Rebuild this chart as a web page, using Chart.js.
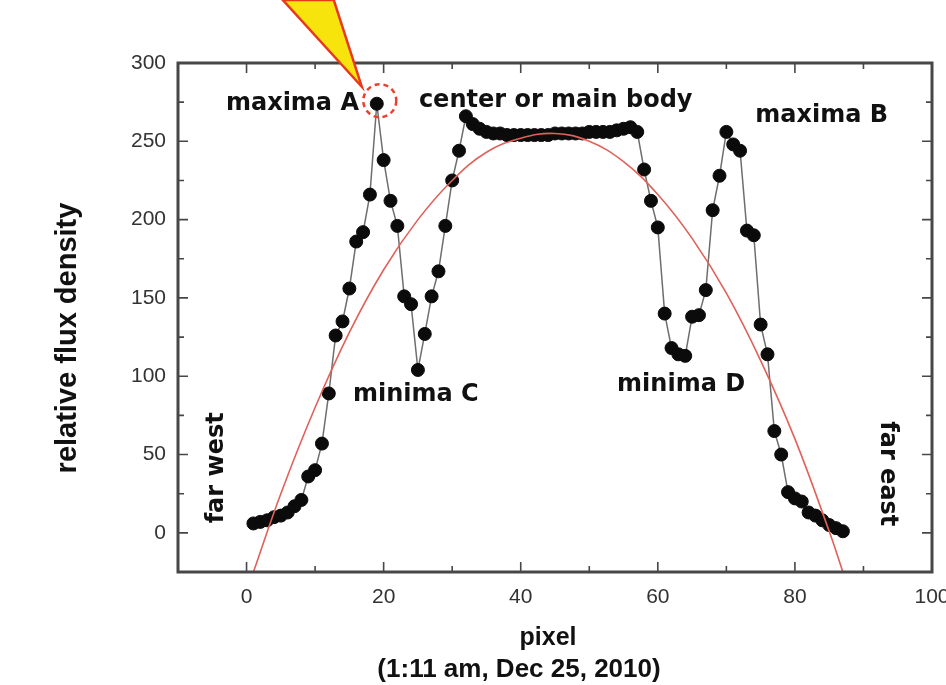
<!DOCTYPE html>
<html>
<head>
<meta charset="utf-8">
<title>relative flux density</title>
<script src="https://cdn.jsdelivr.net/npm/chart.js@4.4.1/dist/chart.umd.min.js"></script>
<style>
    html, body { margin: 0; padding: 0; background: #ffffff; overflow: hidden; }
    #flux-chart { display: block; }
</style>
</head>
<body>
<canvas id="flux-chart" width="960" height="685"></canvas>
<script>
(function () {
    "use strict";

    // pixel index along the scan and the measured flux
    const pixels = [1, 2, 3, 4, 5, 6, 7, 8, 9, 10, 11, 12, 13, 14, 15, 16, 17, 18, 19, 20,
        21, 22, 23, 24, 25, 26, 27, 28, 29, 30, 31, 32, 33, 34, 35, 36, 37, 38, 39, 40,
        41, 42, 43, 44, 45, 46, 47, 48, 49, 50, 51, 52, 53, 54, 55, 56, 57, 58, 59, 60,
        61, 62, 63, 64, 65, 66, 67, 68, 69, 70, 71, 72, 73, 74, 75, 76, 77, 78, 79, 80,
        81, 82, 83, 84, 85, 86, 87];
    const flux = [6, 7, 8, 10, 11, 13, 17, 21, 36, 40, 57, 89, 126, 135, 156, 186, 192, 216, 274, 238,
        212, 196, 151, 146, 104, 127, 151, 167, 196, 225, 244, 266, 261, 258, 256, 255, 255, 254, 254, 254,
        254, 254, 254, 254, 255, 255, 255, 255, 255, 256, 256, 256, 256, 257, 258, 259, 256, 232, 212, 195,
        140, 118, 114, 113, 138, 139, 155, 206, 228, 256, 248, 244, 193, 190, 133, 114, 65, 50, 26, 22,
        20, 13, 11, 8, 5, 3, 1];

    // red fitted curve
    const fitPixels = [1, 5, 10, 15, 20, 25, 30, 35, 40, 45, 50, 55, 60, 65, 70, 75, 80, 85, 87];
    const fitFlux = [-25, 25, 80, 128, 168, 200, 225, 243, 252, 255, 250, 237, 216, 188, 153, 110, 60, 1, -25];

    const xTicks = [0, 20, 40, 60, 80, 100];
    const xMinorTicks = [10, 30, 50, 70, 90];
    const yTicks = [0, 50, 100, 150, 200, 250, 300];
    const yMinorTicks = [25, 75, 125, 175, 225, 275];

    const featureNames = ['maxima A', 'center or main body', 'maxima B', 'minima C', 'minima D'];
    const edgeNames = ['far west', 'far east'];
    const xTitle = 'pixel';
    const xSubtitle = '(1:11 am, Dec 25, 2010)';
    const yTitle = 'relative flux density';

    // where the labels sit, in axis units
    const featureSpots = [[6.7, 274], [45.1, 276], [83.9, 266], [24.7, 88], [63.4, 94.5]];
    const edgeSpots = [[-4.4, 41.5, -1], [93.4, 37.7, 1]];

    const labelFont = 'bold 24px "DejaVu Sans", sans-serif';
    const tickFont = { family: '"Liberation Sans", Arial, sans-serif', size: 21 };

    window.addEventListener("load", init);

    function init() {
        new Chart(id("flux-chart"), {
            type: 'scatter',
            data: {
                datasets: [{
                    label: 'fit',
                    data: fitPixels.map((p, i) => ({ x: p, y: fitFlux[i] })),
                    showLine: true,
                    borderColor: '#e0615a',
                    borderWidth: 1.6,
                    tension: 0.4,
                    pointRadius: 0
                },
                {
                    label: 'flux',
                    data: pixels.map((p, i) => ({ x: p, y: flux[i] })),
                    showLine: true,
                    borderColor: '#6e6e6e',
                    borderWidth: 1.5,
                    pointRadius: 6.5,
                    pointBackgroundColor: '#0b0b0b',
                    pointBorderColor: '#0b0b0b',
                    pointBorderWidth: 1
                }]
            },
            options: {
                animation: false,
                responsive: false,
                layout: { padding: { top: 63, right: 28, bottom: 0, left: 0 } },
                plugins: {
                    legend: { display: false },
                    tooltip: { enabled: false }
                },
                scales: {
                    x: {
                        min: -10,
                        max: 100,
                        grid: { display: false, drawTicks: false },
                        border: { display: false },
                        ticks: { color: '#333333', font: tickFont, padding: 13, maxRotation: 0 },
                        afterBuildTicks: axis => { axis.ticks = xTicks.map(value => ({ value })); },
                        afterFit: axis => {
                            axis.height = 113;
                            // let "100" run off the edge like the original
                            axis.paddingRight = 0;
                        }
                    },
                    y: {
                        min: -25,
                        max: 300,
                        grid: { display: false, drawTicks: false },
                        border: { display: false },
                        ticks: { color: '#333333', font: tickFont, padding: 12 },
                        afterBuildTicks: axis => { axis.ticks = yTicks.map(value => ({ value })); },
                        afterFit: axis => { axis.width = 178; }
                    }
                }
            },
            plugins: [frameAndLabels]
        });
    }

    /**
     * Box round the plot with inward ticks, then the text and the callout
     */
    const frameAndLabels = {
        id: 'frameAndLabels',
        afterDraw(chart) {
            const ctx = chart.ctx;
            const area = chart.chartArea;
            const x = chart.scales.x;
            const y = chart.scales.y;

            ctx.save();
            ctx.strokeStyle = '#474747';
            ctx.lineWidth = 1.6;
            ctx.beginPath();
            const tickX = (v, len) => {
                const px = x.getPixelForValue(v);
                ctx.moveTo(px, area.bottom); ctx.lineTo(px, area.bottom - len);
                ctx.moveTo(px, area.top); ctx.lineTo(px, area.top + len);
            };
            const tickY = (v, len) => {
                const py = y.getPixelForValue(v);
                ctx.moveTo(area.left, py); ctx.lineTo(area.left + len, py);
                ctx.moveTo(area.right, py); ctx.lineTo(area.right - len, py);
            };
            xTicks.forEach(v => tickX(v, 10));
            xMinorTicks.forEach(v => tickX(v, 6));
            yTicks.forEach(v => tickY(v, 10));
            yMinorTicks.forEach(v => tickY(v, 6));
            ctx.stroke();

            ctx.lineWidth = 3;
            ctx.strokeRect(area.left, area.top, area.right - area.left, area.bottom - area.top);

            // feature labels
            ctx.fillStyle = '#111111';
            ctx.font = labelFont;
            ctx.textAlign = 'center';
            ctx.textBaseline = 'middle';
            featureNames.forEach((name, i) => {
                ctx.fillText(name, x.getPixelForValue(featureSpots[i][0]), y.getPixelForValue(featureSpots[i][1]));
            });
            edgeNames.forEach((name, i) => {
                ctx.save();
                ctx.translate(x.getPixelForValue(edgeSpots[i][0]), y.getPixelForValue(edgeSpots[i][1]));
                ctx.rotate(edgeSpots[i][2] * Math.PI / 2);
                ctx.fillText(name, 0, 0);
                ctx.restore();
            });

            // axis titles
            ctx.font = 'bold 29px "Liberation Sans", Arial, sans-serif';
            ctx.save();
            ctx.translate(68, 338);
            ctx.rotate(-Math.PI / 2);
            ctx.fillText(yTitle, 0, 0);
            ctx.restore();
            ctx.font = 'bold 25px "Liberation Sans", Arial, sans-serif';
            ctx.fillText(xTitle, 548, 638);
            ctx.font = 'bold 26px "Liberation Sans", Arial, sans-serif';
            ctx.fillText(xSubtitle, 519, 670);

            // dashed ring and yellow pointer on the highest point
            const peak = flux.indexOf(Math.max(...flux));
            const cx = x.getPixelForValue(pixels[peak]) + 3;
            const cy = y.getPixelForValue(flux[peak]) - 3;
            ctx.strokeStyle = '#ea3f2c';
            ctx.lineWidth = 2.5;
            ctx.setLineDash([5, 4]);
            ctx.beginPath();
            ctx.arc(cx, cy, 16.5, 0, Math.PI * 2);
            ctx.stroke();
            ctx.setLineDash([]);

            ctx.beginPath();
            ctx.moveTo(cx - 97, 0);
            ctx.lineTo(cx - 46, 0);
            ctx.lineTo(cx - 18, cy - 14);
            ctx.closePath();
            ctx.fillStyle = '#f6e40c';
            ctx.fill();
            ctx.strokeStyle = '#e8391f';
            ctx.lineWidth = 2.5;
            ctx.stroke();
            ctx.restore();
        }
    };

    /**
     * Alias for document.getElementById()
     */
    function id(idstr) {
        return document.getElementById(idstr);
    }
})();
</script>
</body>
</html>
